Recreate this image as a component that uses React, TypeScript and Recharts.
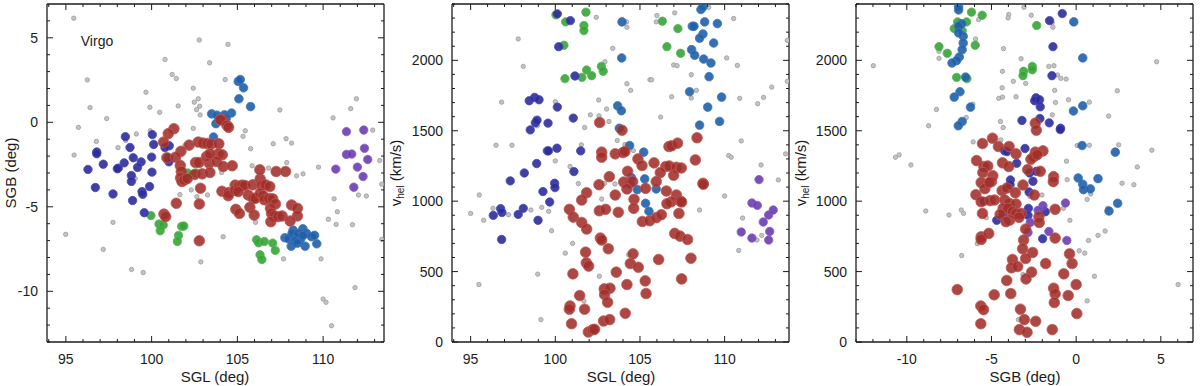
import { ScatterChart, Scatter, XAxis, YAxis } from "recharts";

const FONT = "'Liberation Sans', Arial, Helvetica, sans-serif";
const INK = "#1c1c1c";

// ---- tick labels ----
const sglMajor = [95, 100, 105, 110];
const sgbMajor = [-10, -5, 0, 5];
const velMajor = [0, 500, 1000, 1500, 2000];

const seq = (a: number, b: number, s: number) => {
  const out: number[] = [];
  for (let v = a; v <= b + 1e-9; v += s) out.push(Math.round(v * 1000) / 1000);
  return out;
};
const sglTicks = seq(94, 113, 1);
const sgbTicks = seq(-13, 6, 1);
const velTicks = seq(0, 2400, 100);

// ---- panel 1: SGL vs SGB ----
const greyP1 = [[95.46,6.16],[102.78,4.87],[104.45,4.61],[100.78,3.72],[103.38,3.52],[101.2,2.83],[101.44,2.59],[96.25,2.51],[104.29,2.53],[102.43,2.02],[99.67,1.78],[102.72,1.39],[102.49,1.19],[102.8,0.95],[96.41,0.87],[99.9,0.89],[101.55,0.97],[102.62,0.75],[100.47,0.59],[102.83,0.44],[97.38,0.22],[107.48,0.73],[110.58,0.26],[111.61,0.81],[111.94,1.39],[95.73,-0.3],[99.92,-0.5],[102.43,-0.36],[99.11,-0.69],[105.46,-0.5],[105.33,-0.83],[96.78,-1.13],[98.49,-1.07],[98.04,-1.5],[101.94,-1.37],[107.09,-1.27],[107.84,-0.97],[108.16,-1.23],[105.77,-1.56],[95.48,-1.94],[107.88,-2.38],[109.73,-2.65],[106.82,-2.71],[105.86,-2.57],[108.45,-3.17],[108.83,-3.05],[104.08,-2.97],[112.89,-0.46],[113.3,-2.26],[113.42,-3.66],[99.05,-3.33],[102.31,-4.0],[102.64,-4.4],[103.26,-4.3],[101.65,-4.28],[110.64,-4.53],[110.83,-5.29],[112.06,-4.3],[112.52,-4.36],[97.75,-5.92],[94.99,-6.63],[106.06,-5.92],[110.31,-5.74],[110.76,-6.04],[111.71,-6.06],[104.17,-6.77],[113.42,-6.93],[97.18,-7.52],[107.69,-8.08],[109.88,-8.08],[102.87,-8.26],[98.83,-8.71],[99.51,-8.89],[111.86,-9.78],[110.0,-10.46],[110.17,-10.65],[110.49,-12.04]];
const navyP1 = [[98.47,-0.85],[100.04,-0.73],[100.12,-1.31],[101.03,-1.39],[100.78,-1.5],[98.74,-1.49],[96.8,-1.76],[96.8,-1.86],[100.0,-2.06],[98.93,-2.1],[100.97,-2.1],[101.01,-2.34],[98.4,-2.4],[99.39,-2.34],[97.18,-2.48],[96.29,-2.79],[98.06,-2.71],[98.0,-2.75],[99.18,-2.67],[98.82,-3.15],[100.02,-2.95],[98.82,-3.5],[96.72,-3.86],[99.88,-3.8],[99.44,-4.1],[99.48,-4.26],[97.75,-4.24],[98.89,-4.63],[99.57,-5.35]];
const steelP1 = [[105.05,2.42],[105.17,2.53],[105.36,2.04],[105.09,1.39],[105.77,0.93],[104.66,0.55],[104.25,0.44],[103.5,0.5],[103.81,0.42],[103.75,-0.08],[104.35,0.24],[103.61,-0.87],[107.77,-6.83],[107.98,-6.89],[108.25,-6.38],[108.19,-6.57],[108.49,-6.85],[108.82,-6.3],[108.68,-6.93],[108.37,-7.01],[108.14,-7.33],[108.95,-7.33],[109.03,-6.57],[109.32,-6.77],[109.5,-6.69],[109.63,-7.19],[108.54,-6.57],[108.5,-7.15],[108.83,-6.7]];
const greenP1 = [[99.96,-5.52],[100.43,-6.02],[100.68,-6.08],[100.5,-6.42],[101.75,-6.16],[101.88,-6.14],[101.57,-6.69],[101.5,-7.05],[106.12,-6.95],[106.24,-7.13],[106.57,-7.05],[107.06,-7.15],[107.21,-7.58],[106.32,-7.84],[106.43,-8.12],[102.1,-3.0],[102.6,-3.0]];
const purpleP1 = [[111.36,-0.55],[112.37,-0.46],[111.36,-1.9],[111.67,-1.88],[112.41,-1.54],[112.6,-2.2],[112.0,-2.65],[112.33,-3.21],[111.79,-3.84],[110.74,-2.77]];
const redP1 = [[104.1,0.16],[104.0,0.14],[104.39,-0.18],[104.49,-0.3],[101.3,-0.38],[100.97,-0.67],[100.7,-1.17],[102.19,-1.35],[102.72,-1.17],[102.99,-1.23],[103.24,-1.25],[103.48,-1.29],[103.92,-1.27],[101.71,-1.72],[103.88,-1.86],[104.12,-1.92],[100.89,-2.1],[101.4,-2.06],[102.56,-2.38],[102.76,-2.38],[103.36,-2.42],[103.79,-2.32],[104.17,-2.61],[104.7,-2.57],[101.67,-2.55],[101.73,-2.91],[101.69,-3.29],[101.77,-3.5],[101.9,-3.41],[102.5,-3.09],[102.95,-3.05],[103.4,-2.97],[102.85,-3.9],[102.08,-3.33],[104.1,-4.08],[104.49,-4.16],[104.47,-4.34],[104.87,-3.72],[104.87,-4.02],[105.1,-3.78],[105.28,-3.72],[105.44,-3.74],[105.9,-3.7],[105.05,-4.1],[105.63,-4.3],[105.92,-4.5],[106.05,-4.5],[106.33,-3.35],[106.43,-3.74],[106.64,-3.7],[106.89,-3.8],[106.33,-4.2],[106.5,-4.34],[106.58,-4.59],[106.31,-2.81],[107.26,-2.91],[107.81,-2.91],[106.85,-4.51],[107.06,-4.53],[107.22,-4.83],[106.93,-5.09],[106.99,-5.39],[107.14,-5.54],[106.95,-5.88],[107.38,-5.58],[107.61,-5.54],[108.16,-4.89],[108.5,-5.09],[108.5,-5.54],[108.08,-5.84],[104.91,-5.15],[105.12,-5.39],[105.73,-5.03],[105.98,-5.49],[102.78,-4.83],[101.44,-4.79],[100.72,-5.43],[100.82,-5.58],[102.78,-7.01],[103.2,-2.02],[103.4,-1.86]];

// ---- panel 2: SGL vs v_hel ----
const greyP2 = [[95.0,913],[95.51,1044],[95.77,864],[95.49,408],[96.32,949],[96.5,1397],[96.83,1703],[97.24,904],[97.44,1397],[97.81,2152],[98.11,1957],[98.56,937],[98.94,1535],[98.96,482],[99.15,159],[99.2,956],[99.61,928],[99.78,790],[100.0,1706],[100.0,1286],[100.59,631],[100.87,1246],[101.02,700],[101.36,1125],[101.54,1400],[101.73,1523],[101.69,292],[102.07,1613],[102.42,2306],[102.56,1718],[102.58,1606],[102.6,467],[102.74,1015],[102.91,1127],[102.93,1990],[103.03,1654],[103.17,1566],[103.39,2085],[103.52,1122],[103.66,1431],[104.11,1402],[104.23,1834],[104.21,2273],[104.23,2235],[104.45,1787],[104.61,1359],[104.33,619],[105.59,1862],[105.69,1862],[105.96,2273],[106.0,2318],[106.22,1597],[106.87,1741],[106.99,1967],[107.19,1962],[107.05,2337],[107.58,1008],[108.03,1898],[108.03,1732],[108.33,1787],[108.52,937],[109.06,2377],[110.0,1037],[110.12,2017],[110.24,1324],[110.39,1312],[110.53,2297],[110.75,1964],[110.83,650],[110.89,1730],[110.98,1428],[111.06,880],[111.95,1692],[112.15,1257],[111.91,724],[112.3,1737],[112.19,757],[112.78,1810],[113.17,1151],[113.6,1336],[113.7,2142],[113.7,1851]];
const navyP2 = [[100.12,2330],[100.89,2282],[100.2,2097],[101.16,1889],[98.46,1713],[98.78,1737],[99.04,1720],[100.12,1668],[101.06,1590],[98.82,1556],[98.92,1575],[98.52,1506],[99.57,1554],[99.53,1357],[99.6,1357],[100.1,1376],[101.5,1357],[98.9,1267],[98.17,1200],[101.1,1210],[97.34,1144],[99.96,1127],[99.98,1096],[99.27,1068],[99.67,994],[96.77,947],[96.85,920],[98.11,949],[97.81,906],[96.34,899],[98.98,864],[96.83,728]];
const steelP2 = [[103.94,2273],[103.92,2017],[103.68,1677],[103.9,1642],[103.78,1518],[104.39,1395],[105.22,1348],[104.49,1167],[104.41,1122],[105.28,1158],[104.84,1082],[105.96,1087],[105.33,985],[105.53,928],[108.6,2361],[108.72,2380],[108.82,2273],[108.09,2242],[108.19,2242],[109.57,2261],[108.72,2187],[108.52,2157],[109.35,2123],[108.05,2076],[108.23,2036],[108.76,2009],[109.19,1981],[109.08,1884],[107.93,1777],[109.82,1739],[109.0,1668],[109.7,1566],[108.52,1540]];
const greenP2 = [[100.04,2323],[101.81,2342],[100.61,2273],[101.69,2247],[101.69,2211],[100.51,2107],[100.57,1870],[101.57,1879],[101.85,1931],[102.15,1891],[102.72,1957],[102.83,1922],[106.32,2278],[107.24,2225],[106.59,2097],[107.4,2050]];
const purpleP2 = [[112.03,1153],[111.61,987],[111.93,970],[112.6,902],[112.87,937],[112.28,852],[110.98,781],[111.61,738],[112.66,785],[112.6,724]];
const redP2 = [[102.62,1559],[103.94,1504],[108.37,1450],[106.71,1388],[106.87,1393],[107.22,1412],[103.54,1336],[103.99,1345],[104.11,1352],[102.74,1348],[102.74,1312],[104.88,1300],[105.12,1253],[105.83,1272],[108.27,1293],[106.52,1246],[106.73,1250],[107.15,1241],[107.44,1236],[106.2,1203],[106.99,1184],[103.19,1174],[104.27,1212],[104.04,1136],[104.57,1139],[105.96,1139],[104.23,1087],[105.33,1091],[102.58,1117],[108.72,1127],[108.74,1120],[101.85,1060],[101.56,1008],[103.54,1044],[104.65,1013],[106.56,1072],[107.15,1044],[106.85,996],[106.59,982],[107.38,1001],[107.46,994],[100.83,942],[102.6,932],[102.97,942],[103.72,921],[104.63,949],[107.3,913],[101.06,887],[101.56,849],[101.85,802],[105.14,856],[105.57,861],[105.96,883],[106.26,904],[107.05,771],[107.36,752],[107.81,728],[102.66,738],[102.74,724],[103.13,662],[101.79,638],[104.59,626],[106.1,586],[108.01,595],[101.83,562],[101.97,539],[104.43,557],[104.9,531],[101.04,484],[103.6,496],[105.31,434],[107.46,448],[104.23,408],[105.36,344],[102.89,377],[103.23,382],[102.91,337],[101.44,330],[103.09,282],[100.87,256],[100.83,233],[101.73,233],[104.13,204],[100.96,130],[102.85,149],[103.21,159],[101.95,71],[102.22,88],[102.32,90]];

// ---- panel 3: SGB vs v_hel ----
const greyP3 = [[-11.98,1962],[-10.67,1312],[-10.45,1329],[-9.76,1257],[-8.88,930],[-8.71,1535],[-8.25,1651],[-8.1,2064],[-8.1,2014],[-7.51,902],[-6.78,937],[-6.65,913],[-6.76,614],[-6.49,1594],[-6.1,1689],[-6.08,1421],[-5.94,2152],[-5.84,698],[-5.76,2289],[-5.31,883],[-4.57,1730],[-4.47,1566],[-4.45,1435],[-4.35,1739],[-4.31,1523],[-4.35,1922],[-4.37,1805],[-4.29,2083],[-3.98,2325],[-4.02,2301],[-3.71,1851],[-3.55,1741],[-3.25,2012],[-3.08,2377],[-2.98,1836],[-3.14,479],[-3.41,159],[-2.65,2320],[-2.71,1032],[-2.02,1044],[-1.61,1957],[-1.31,1962],[-1.41,2268],[-1.37,2235],[-1.27,1787],[-1.22,1701],[-1.41,1613],[-1.1,1896],[-0.9,1872],[-0.59,1867],[-0.45,1720],[-0.75,949],[-0.57,1284],[-0.53,1153],[-0.37,864],[0.06,1395],[0.18,648],[0.51,631],[0.65,1013],[0.65,292],[0.73,721],[0.78,1703],[0.78,1397],[0.86,1051],[1.08,467],[1.29,757],[1.71,788],[1.92,1604],[1.86,949],[2.43,1784],[2.51,1400],[2.71,1127],[3.41,1117],[3.61,1243],[4.47,1362],[4.75,1990],[6.02,408]];
const navyP3 = [[-0.82,2332],[-1.57,2282],[-1.37,2097],[-1.43,1891],[-2.37,1734],[-2.45,1713],[-2.16,1720],[-2.12,1670],[-2.14,1587],[-3.2,1573],[-1.59,1556],[-0.92,1518],[-0.94,1508],[-3.02,1374],[-4.22,1357],[-4.08,1352],[-3.51,1269],[-2.75,1200],[-2.35,1212],[-2.55,1141],[-3.88,1151],[-3.9,1117],[-2.78,1065],[-2.82,949],[-2.84,899],[-4.31,906],[-4.69,864],[-1.82,925],[-1.98,733],[-5.43,999]];
const steelP3 = [[-6.94,2382],[-6.94,2358],[-6.76,2259],[-6.94,2242],[-6.67,2171],[-6.67,2123],[-6.73,2076],[-6.9,2024],[-7.06,1998],[-7.33,1981],[-6.53,1881],[-6.86,1777],[-7.2,1739],[-6.73,1566],[-6.96,1535],[-6.24,1668],[-6.94,2195],[-0.14,2273],[0.39,2017],[-0.16,1640],[0.39,1677],[0.35,1395],[2.31,1348],[0.12,1165],[0.39,1120],[0.43,1082],[0.84,1087],[1.29,1160],[2.45,985],[1.94,930]];
const greenP3 = [[-6.18,2342],[-5.55,2320],[-7.0,2273],[-6.47,2273],[-7.2,2225],[-6.73,2211],[-2.33,2247],[-8.1,2097],[-5.96,2107],[-7.61,2050],[-2.59,1957],[-2.59,1933],[-3.1,1922],[-3.14,1891],[-7.06,1879],[-6.45,1870]];
const purpleP3 = [[-0.63,987],[-1.96,968],[-2.25,935],[-2.71,849],[-2.84,778],[-1.61,785],[-0.55,721]];
const redP3 = [[-4.94,1447],[-5.53,1409],[-4.59,1388],[-3.96,1388],[-2.41,1554],[-2.35,1504],[-3.55,1336],[-2.41,1348],[-1.96,1357],[-2.49,1317],[-2.67,1298],[-2.3,1330],[-5.88,1288],[-5.45,1246],[-5.22,1250],[-5.51,1203],[-4.35,1272],[-3.98,1246],[-2.86,1224],[-2.12,1212],[-1.33,1174],[-1.35,1139],[-4.92,1181],[-5.0,1139],[-5.61,1132],[-5.39,1089],[-5.12,1134],[-3.14,1115],[-4.37,1075],[-4.08,1094],[-3.59,1060],[-2.47,1044],[-5.92,1046],[-5.61,996],[-5.08,1004],[-4.82,1008],[-4.22,1008],[-3.96,985],[-3.55,980],[-4.31,949],[-4.02,949],[-3.76,925],[-3.55,913],[-3.25,913],[-5.53,913],[-4.49,906],[-3.92,866],[-3.37,885],[-4.14,854],[-2.2,890],[-2.18,849],[-1.24,942],[-2.98,802],[-5.61,747],[-5.61,728],[-5.16,771],[-3.1,724],[-1.24,738],[-3.16,662],[-2.57,636],[-2.98,593],[-3.76,586],[-3.82,527],[-3.45,536],[-1.8,557],[-2.63,496],[-0.39,626],[-0.24,557],[-0.73,484],[-2.96,448],[-4.1,437],[-1.33,382],[-1.24,342],[0.0,408],[-0.47,330],[-4.84,335],[-3.86,344],[-7.02,372],[-5.63,256],[-5.47,230],[-3.29,233],[-1.29,280],[0.04,202],[-5.63,130],[-3.06,159],[-2.39,147],[-3.35,88],[-2.9,69],[-1.41,88]];

const pts = (a: number[][]) => a.map(([x, y]) => ({ x, y }));

// marker styles per group
const STYLES = {
  grey: { r: 2.2, fill: "#c4c4c4", stroke: "#9c9c9c", op: 1 },
  navy: { r: 4.2, fill: "#2b2b9c", stroke: "#4848b0", op: 0.9 },
  steel: { r: 4.3, fill: "#1f5ea8", stroke: "#3d78ba", op: 0.9 },
  green: { r: 4.2, fill: "#36a336", stroke: "#55b555", op: 0.9 },
  purple: { r: 4.2, fill: "#6a3db0", stroke: "#8560c0", op: 0.9 },
  red: { r: 5.3, fill: "#a12d29", stroke: "#bd5a55", op: 0.88 },
};
type Group = keyof typeof STYLES;

const dot = (g: Group) => (p: any) => {
  const s = STYLES[g];
  if (p.cx == null || p.cy == null) return <g />;
  return <circle cx={p.cx} cy={p.cy} r={s.r} fill={s.fill} fillOpacity={s.op} stroke={s.stroke} strokeWidth={0.8} />;
};
const hidden = () => <g />;

type Side = "bottom" | "top" | "left" | "right";
const makeTick = (side: Side, majors: number[], labels: boolean) => (props: any) => {
  const { x, y, payload } = props;
  const v = payload.value as number;
  const major = majors.includes(v);
  const len = major ? 6 : 3;
  let line;
  if (side === "bottom") line = <line x1={x} x2={x} y1={y} y2={y - len} />;
  else if (side === "top") line = <line x1={x} x2={x} y1={y} y2={y + len} />;
  else if (side === "left") line = <line x1={x} x2={x + len} y1={y} y2={y} />;
  else line = <line x1={x} x2={x - len} y1={y} y2={y} />;
  return (
    <g>
      <g stroke={INK} strokeWidth={1}>{line}</g>
      {labels && major && side === "bottom" && (
        <text x={x} y={y + 22} textAnchor="middle" fill={INK} fontSize={14} fontFamily={FONT}>{v}</text>
      )}
      {labels && major && side === "left" && (
        <text x={x - 9} y={y + 5} textAnchor="end" fill={INK} fontSize={14} fontFamily={FONT}>{v}</text>
      )}
    </g>
  );
};

interface PanelProps {
  left: number;
  width: number;
  yAxisWidth: number;
  xDomain: [number, number];
  yDomain: [number, number];
  xTicks: number[];
  yTicks: number[];
  xMajor: number[];
  yMajor: number[];
  series: [Group, number[][]][];
}

const Panel = ({ left, width, yAxisWidth, xDomain, yDomain, xTicks, yTicks, xMajor, yMajor, series }: PanelProps) => {
  const axisLine = { stroke: INK, strokeWidth: 1.3 };
  const common = { type: "number" as const, allowDataOverflow: true, interval: 0 as const, tickSize: 0, tickMargin: 0, tickLine: false, axisLine };
  return (
    <div style={{ position: "absolute", left, top: 0 }}>
      <ScatterChart width={width} height={386} margin={{ top: 3, right: width - yAxisWidth - 338, bottom: 0, left: 0 }}>
        <XAxis xAxisId="b" dataKey="x" orientation="bottom" height={44} domain={xDomain} ticks={xTicks} tick={makeTick("bottom", xMajor, true)} {...common} />
        <XAxis xAxisId="t" dataKey="x" orientation="top" height={1} domain={xDomain} ticks={xTicks} tick={makeTick("top", xMajor, false)} {...common} />
        <YAxis yAxisId="l" dataKey="y" orientation="left" width={yAxisWidth} domain={yDomain} ticks={yTicks} tick={makeTick("left", yMajor, true)} {...common} />
        <YAxis yAxisId="r" dataKey="y" orientation="right" width={1} domain={yDomain} ticks={yTicks} tick={makeTick("right", yMajor, false)} {...common} />
        <Scatter xAxisId="t" yAxisId="r" data={pts(series[0][1])} shape={hidden} isAnimationActive={false} />
        {series.map(([g, d], i) => (
          <Scatter key={i} xAxisId="b" yAxisId="l" data={pts(d)} shape={dot(g)} isAnimationActive={false} />
        ))}
      </ScatterChart>
    </div>
  );
};

const label = (cx: number, cy: number, rotate: boolean, content: React.ReactNode, size = 15) => (
  <div
    style={{
      position: "absolute",
      left: cx,
      top: cy,
      transform: `translate(-50%, -50%)${rotate ? " rotate(-90deg)" : ""}`,
      whiteSpace: "nowrap",
      fontFamily: FONT,
      fontSize: size,
      color: INK,
      lineHeight: 1,
    }}
  >
    {content}
  </div>
);

const vhel = (
  <span>
    v<sub style={{ fontSize: 10, verticalAlign: "-3px" }}>hel</sub> (km/s)
  </span>
);

export default function App() {
  return (
    <div style={{ position: "absolute", left: 0, top: 0, width: 1200, height: 386, background: "#fff" }}>
      <Panel
        left={0} width={390} yAxisWidth={47}
        xDomain={[93.9, 113.55]} yDomain={[-13, 7]}
        xTicks={sglTicks} yTicks={sgbTicks}
        xMajor={sglMajor} yMajor={sgbMajor}
        series={[["grey", greyP1], ["green", greenP1], ["navy", navyP1], ["steel", steelP1], ["purple", purpleP1], ["red", redP1]]}
      />
      <Panel
        left={400} width={395} yAxisWidth={52}
        xDomain={[93.9, 113.8]} yDomain={[0, 2400]}
        xTicks={sglTicks} yTicks={velTicks}
        xMajor={sglMajor} yMajor={velMajor}
        series={[["grey", greyP2], ["green", greenP2], ["navy", navyP2], ["steel", steelP2], ["purple", purpleP2], ["red", redP2]]}
      />
      <Panel
        left={800} width={400} yAxisWidth={56}
        xDomain={[-13, 6.9]} yDomain={[0, 2400]}
        xTicks={sgbTicks} yTicks={velTicks}
        xMajor={sgbMajor} yMajor={velMajor}
        series={[["grey", greyP3], ["green", greenP3], ["navy", navyP3], ["steel", steelP3], ["purple", purpleP3], ["red", redP3]]}
      />
      {label(10, 173, true, "SGB (deg)")}
      {label(215, 376, false, "SGL (deg)")}
      {label(97, 41, false, "Virgo", 14)}
      {label(397, 173, true, vhel)}
      {label(621, 376, false, "SGL (deg)")}
      {label(802, 173, true, vhel)}
      {label(1025, 376, false, "SGB (deg)")}
    </div>
  );
}
